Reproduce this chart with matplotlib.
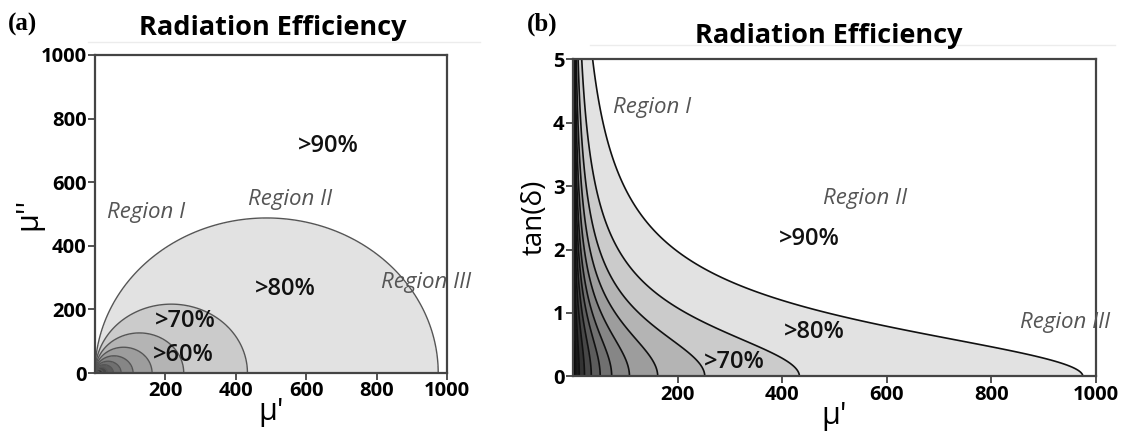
import numpy as np
import matplotlib
matplotlib.use("Agg")
import matplotlib.pyplot as plt
from matplotlib.lines import Line2D

# diameters (in mu') of the constant-efficiency circles, outermost first
diameters = [975, 433, 252, 162, 108, 74, 52, 35, 22, 12, 5]
fill_colors = ['#000000', '#1a1a1a', '#333333', '#474747', '#5c5c5c', '#707070',
               '#868686', '#9d9d9d', '#b4b4b4', '#cbcbcb', '#e2e2e2', '#ffffff']

xticks = [200, 400, 600, 800, 1000]
yticks_a = [0, 200, 400, 600, 800, 1000]
yticks_b = [0, 1, 2, 3, 4, 5]
pct_labels = ['>90%', '>80%', '>70%', '>60%']
region_labels = ['Region I', 'Region II', 'Region III']

levels = [0] + sorted(diameters) + [1e9]

plt.rcParams['font.family'] = ['Open Sans', 'DejaVu Sans']
fig = plt.figure(figsize=(11.22, 4.42), dpi=100)

spine_col = '#444444'


def style_axes(ax, yt):
    for s in ax.spines.values():
        s.set_color(spine_col)
        s.set_linewidth(1.6)
    ax.set_xticks(xticks)
    ax.set_yticks(yt)
    ax.tick_params(direction='out', length=5, width=1.3, color=spine_col, pad=1)
    for lab in ax.get_xticklabels() + ax.get_yticklabels():
        lab.set_fontweight('bold')
        lab.set_fontsize(14.5)


# (a) mu'' vs mu'
ax1 = fig.add_axes([0.0847, 0.1561, 0.3137, 0.7195])
x = np.linspace(0.05, 1000, 1400)
y = np.linspace(0, 1000, 1400)
X, Y = np.meshgrid(x, y)
F = (X**2 + Y**2) / X
ax1.contourf(X, Y, F, levels=levels, colors=fill_colors)
ax1.contour(X, Y, F, levels=sorted(diameters), colors='#555555', linewidths=1.0)
ax1.set_xlim(0, 1000)
ax1.set_ylim(0, 1000)
style_axes(ax1, yticks_a)
ax1.set_xlabel("μ'", fontsize=22, labelpad=-3)
ax1.set_ylabel("μ''", fontsize=22, labelpad=-2)

pct_kw = dict(fontsize=17, ha='center', va='center', color='#111111',
              fontweight='semibold')
reg_kw = dict(fontsize=16, ha='center', va='center', color='#555555', style='italic')
ax1.text(662, 714, pct_labels[0], **pct_kw)
ax1.text(542, 264, pct_labels[1], **pct_kw)
ax1.text(256, 164, pct_labels[2], **pct_kw)
ax1.text(250, 57, pct_labels[3], **pct_kw)
ax1.text(145, 506, region_labels[0], **reg_kw)
ax1.text(554, 547, region_labels[1], **reg_kw)
ax1.text(940, 285, region_labels[2], **reg_kw)

# (b) tan(delta) vs mu'
ax2 = fig.add_axes([0.5107, 0.1482, 0.4661, 0.7183])
xb = np.linspace(0.05, 1000, 1600)
tb = np.linspace(0, 5, 1000)
XB, TB = np.meshgrid(xb, tb)
FB = XB * (1 + TB**2)
ax2.contourf(XB, TB, FB, levels=levels, colors=fill_colors)
ax2.contour(XB, TB, FB, levels=sorted(diameters), colors='#111111', linewidths=1.2)
ax2.set_xlim(0, 1000)
ax2.set_ylim(0, 5)
style_axes(ax2, yticks_b)
ax2.set_xlabel("μ'", fontsize=22, labelpad=-3)
ax2.set_ylabel("tan(δ)", fontsize=20, labelpad=3)

ax2.text(451, 2.17, pct_labels[0], **pct_kw)
ax2.text(461, 0.70, pct_labels[1], **pct_kw)
ax2.text(309, 0.23, pct_labels[2], **pct_kw)
ax2.text(152, 4.23, region_labels[0], **reg_kw)
ax2.text(558, 2.8, region_labels[1], **reg_kw)
ax2.text(940, 0.85, region_labels[2], **reg_kw)

# titles and panel letters
fig.text(273 / 1122, 1 - 28 / 442, 'Radiation Efficiency', fontsize=19.5,
         fontweight='bold', ha='center', va='center')
fig.text(829 / 1122, 1 - 36 / 442, 'Radiation Efficiency', fontsize=19.5,
         fontweight='bold', ha='center', va='center')
fig.text(8 / 1122, 1 - 24 / 442, '(a)', fontsize=18, fontweight='bold',
         family='Liberation Serif', ha='left', va='center')
fig.text(527 / 1122, 1 - 24 / 442, '(b)', fontsize=18, fontweight='bold',
         family='Liberation Serif', ha='left', va='center')

# faint frame lines behind the titles
fig.add_artist(Line2D([88 / 1122, 480 / 1122], [1 - 42 / 442] * 2, color='#ececec', lw=1))
fig.add_artist(Line2D([590 / 1122, 1115 / 1122], [1 - 45 / 442] * 2, color='#ececec', lw=1))

fig.savefig('out.png', dpi=100)
